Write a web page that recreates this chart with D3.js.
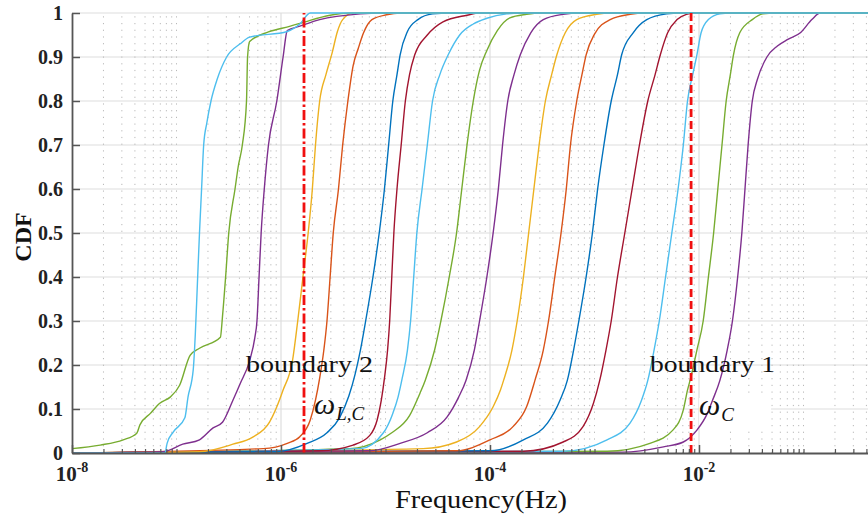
<!DOCTYPE html>
<html><head><meta charset="utf-8">
<script src="https://cdn.jsdelivr.net/npm/d3@7"></script>
<style>html,body{margin:0;padding:0;background:#fff;overflow:hidden}</style>
</head><body><svg id="chart" width="868" height="518"></svg>
<script>
// ---- data: each curve is [log10(frequency in Hz), CDF] ----
const c01 = [[-8,0],[-7.11,0],[-7.09,0.022],[-7.03,0.048],[-6.92,0.08],[-6.89,0.127],[-6.84,0.189],[-6.82,0.27],[-6.80,0.385],[-6.78,0.5],[-6.76,0.6],[-6.74,0.7],[-6.71,0.75],[-6.67,0.8],[-6.61,0.85],[-6.52,0.9],[-6.39,0.93],[-6.30,0.945],[-5.94,0.958],[-5.82,0.975],[-5.72,1],[0,1]];
const c02 = [[-8,0.01],[-7.73,0.018],[-7.51,0.03],[-7.38,0.045],[-7.35,0.064],[-7.25,0.09],[-7.16,0.113],[-7.06,0.127],[-6.97,0.154],[-6.87,0.222],[-6.78,0.238],[-6.58,0.263],[-6.56,0.31],[-6.53,0.4],[-6.50,0.5],[-6.44,0.6],[-6.41,0.65],[-6.37,0.7],[-6.33,0.8],[-6.32,0.9],[-6.30,0.935],[-6.12,0.957],[-5.91,0.97],[-5.77,0.98],[-5.53,0.995],[-5.34,1],[0,1]];
const c03 = [[-8,0],[-7.13,0.003],[-6.94,0.02],[-6.78,0.03],[-6.65,0.057],[-6.56,0.07],[-6.46,0.12],[-6.39,0.158],[-6.30,0.21],[-6.25,0.263],[-6.23,0.3],[-6.21,0.4],[-6.19,0.5],[-6.16,0.6],[-6.12,0.7],[-6.04,0.8],[-5.98,0.9],[-5.94,0.96],[-5.82,0.97],[-5.63,0.985],[-5.24,0.998],[-5.05,1],[0,1]];
const c04 = [[-8,0],[-6.78,0.003],[-6.46,0.02],[-6.27,0.036],[-6.11,0.07],[-6.04,0.105],[-5.98,0.143],[-5.89,0.21],[-5.84,0.3],[-5.79,0.4],[-5.74,0.5],[-5.70,0.6],[-5.67,0.7],[-5.63,0.8],[-5.57,0.86],[-5.51,0.91],[-5.46,0.958],[-5.41,0.985],[-5.31,1],[0,1]];
const c05 = [[-8,0],[-6.17,0.01],[-5.94,0.022],[-5.82,0.037],[-5.72,0.075],[-5.67,0.12],[-5.63,0.17],[-5.59,0.234],[-5.56,0.3],[-5.53,0.4],[-5.50,0.5],[-5.45,0.6],[-5.41,0.7],[-5.36,0.8],[-5.31,0.88],[-5.26,0.92],[-5.21,0.955],[-5.13,0.985],[-4.99,0.996],[-4.86,1],[0,1]];
const c06 = [[-8,0],[-6.04,0.003],[-5.75,0.022],[-5.56,0.046],[-5.44,0.08],[-5.35,0.13],[-5.29,0.18],[-5.24,0.234],[-5.19,0.3],[-5.12,0.4],[-5.06,0.5],[-5.01,0.6],[-4.97,0.7],[-4.93,0.8],[-4.89,0.86],[-4.86,0.905],[-4.79,0.958],[-4.69,0.985],[-4.55,0.998],[-4.38,1],[0,1]];
const c07 = [[-8,0],[-5.63,0.005],[-5.31,0.018],[-5.15,0.04],[-5.08,0.075],[-5.04,0.12],[-5.01,0.17],[-4.98,0.234],[-4.96,0.3],[-4.94,0.4],[-4.92,0.5],[-4.89,0.6],[-4.85,0.7],[-4.81,0.8],[-4.77,0.86],[-4.72,0.905],[-4.60,0.95],[-4.45,0.98],[-4.22,0.995],[-4.10,1],[0,1]];
const c08 = [[-8,0],[-5.24,0.01],[-5.02,0.046],[-4.93,0.09],[-4.88,0.127],[-4.84,0.17],[-4.79,0.234],[-4.76,0.3],[-4.73,0.4],[-4.70,0.5],[-4.65,0.6],[-4.60,0.7],[-4.55,0.8],[-4.48,0.86],[-4.40,0.905],[-4.29,0.95],[-4.16,0.975],[-4.03,0.988],[-3.84,0.998],[-3.71,1],[0,1]];
const c09 = [[-8,0],[-5.34,0.01],[-5.05,0.03],[-4.94,0.046],[-4.77,0.085],[-4.67,0.136],[-4.62,0.165],[-4.53,0.234],[-4.47,0.3],[-4.39,0.4],[-4.32,0.5],[-4.27,0.6],[-4.22,0.7],[-4.16,0.8],[-4.10,0.87],[-4.03,0.915],[-3.93,0.96],[-3.81,0.989],[-3.65,0.997],[-3.52,1],[0,1]];
const c10 = [[-8,0],[-5.15,0.005],[-4.86,0.022],[-4.60,0.046],[-4.41,0.082],[-4.30,0.127],[-4.23,0.165],[-4.15,0.234],[-4.10,0.3],[-4.03,0.4],[-3.97,0.5],[-3.92,0.6],[-3.88,0.7],[-3.83,0.8],[-3.77,0.86],[-3.71,0.905],[-3.61,0.955],[-3.49,0.985],[-3.30,0.997],[-3.14,1],[0,1]];
const c11 = [[-8,0],[-4.64,0.01],[-4.32,0.025],[-4.10,0.06],[-3.97,0.105],[-3.90,0.143],[-3.87,0.165],[-3.79,0.234],[-3.74,0.3],[-3.68,0.4],[-3.63,0.5],[-3.58,0.6],[-3.53,0.7],[-3.47,0.8],[-3.41,0.86],[-3.36,0.905],[-3.28,0.955],[-3.17,0.985],[-2.98,0.997],[-2.85,1],[0,1]];
const c12 = [[-8,0],[-4.32,0.005],[-4.00,0.03],[-3.78,0.06],[-3.65,0.105],[-3.57,0.165],[-3.49,0.234],[-3.44,0.3],[-3.38,0.4],[-3.32,0.5],[-3.27,0.6],[-3.23,0.7],[-3.17,0.8],[-3.12,0.86],[-3.08,0.905],[-3.00,0.952],[-2.85,0.985],[-2.66,0.997],[-2.52,1],[0,1]];
const c13 = [[-8,0],[-4.00,0.005],[-3.68,0.03],[-3.45,0.068],[-3.33,0.12],[-3.26,0.165],[-3.20,0.234],[-3.15,0.3],[-3.08,0.4],[-3.02,0.5],[-2.97,0.6],[-2.91,0.7],[-2.84,0.8],[-2.78,0.86],[-2.74,0.905],[-2.63,0.955],[-2.50,0.985],[-2.31,0.998],[-2.18,1],[0,1]];
const c14 = [[-8,0],[-3.68,0.004],[-3.30,0.025],[-3.11,0.06],[-3.01,0.113],[-2.95,0.165],[-2.89,0.234],[-2.84,0.3],[-2.78,0.4],[-2.71,0.5],[-2.64,0.6],[-2.57,0.7],[-2.49,0.8],[-2.42,0.86],[-2.37,0.905],[-2.30,0.955],[-2.21,0.985],[-2.12,0.997],[-2.04,1],[0,1]];
const c15 = [[-8,0],[-3.30,0.004],[-2.88,0.03],[-2.66,0.068],[-2.55,0.12],[-2.49,0.165],[-2.43,0.234],[-2.38,0.3],[-2.32,0.4],[-2.26,0.5],[-2.20,0.6],[-2.15,0.7],[-2.11,0.8],[-2.06,0.86],[-2.02,0.905],[-1.98,0.955],[-1.91,0.985],[-1.80,0.998],[-1.70,1],[0,1]];
const c16 = [[-8,0],[-2.88,0.004],[-2.47,0.022],[-2.25,0.052],[-2.15,0.098],[-2.11,0.143],[-2.08,0.17],[-2.02,0.234],[-1.96,0.3],[-1.91,0.4],[-1.86,0.5],[-1.82,0.6],[-1.78,0.7],[-1.74,0.8],[-1.70,0.86],[-1.67,0.905],[-1.61,0.955],[-1.49,0.985],[-1.39,0.998],[-1.27,1],[0,1]];
const c17 = [[-8,0],[-2.73,0.002],[-2.34,0.014],[-2.15,0.025],[-2.02,0.052],[-1.92,0.09],[-1.87,0.12],[-1.80,0.165],[-1.73,0.234],[-1.68,0.3],[-1.63,0.4],[-1.59,0.5],[-1.56,0.6],[-1.53,0.7],[-1.49,0.8],[-1.44,0.85],[-1.35,0.9],[-1.25,0.925],[-1.15,0.94],[-1.03,0.955],[-0.92,0.985],[-0.84,1],[0,1]];

const curves = [c01,c02,c03,c04,c05,c06,c07,c08,c09,c10,c11,c12,c13,c14,c15,c16,c17];
const palette = ["#4DBEEE","#77AC30","#7E2F8E","#EDB120","#D95319","#0072BD","#A2142F",
                 "#4DBEEE","#77AC30","#7E2F8E","#EDB120","#D95319","#0072BD","#A2142F",
                 "#4DBEEE","#77AC30","#7E2F8E"];

const yTickValues = [0,0.1,0.2,0.3,0.4,0.5,0.6,0.7,0.8,0.9,1];
const yTickLabels = ["0","0.1","0.2","0.3","0.4","0.5","0.6","0.7","0.8","0.9","1"];
const xMajorTicks = [1e-8,1e-6,1e-4,1e-2];
const xTickExponents = ["-8","-6","-4","-2"];
const boundaries = [
  {f: 1.66e-6, name: "boundary 2", sym: "\u03C9", sub: "L,C", dash: "10,3,2.5,3"},
  {f: 8.4e-3,  name: "boundary 1", sym: "\u03C9", sub: "C",   dash: "8,4"}
];

// ---- chart ----
const svg = d3.select("#chart");
const x = d3.scaleLog().domain([1e-8, 1]).range([72, 908]);
const y = d3.scaleLinear().domain([0, 1]).range([453, 13]);
const [y0, y1] = y.range();
const serif = "'Liberation Serif','Times New Roman',serif";

const allTicks = x.ticks();
const minorTicks = allTicks.filter(t => !xMajorTicks.some(m => Math.abs(Math.log10(t) - Math.log10(m)) < 1e-6));

// grid
const grid = svg.append("g");
grid.selectAll(".hg").data(yTickValues.slice(1)).join("line")
  .attr("x1", 72).attr("x2", 868).attr("y1", d => y(d)).attr("y2", d => y(d))
  .attr("stroke", "#dedede").attr("stroke-width", 1.2);
grid.selectAll(".vmin").data(minorTicks).join("line")
  .attr("x1", d => x(d)).attr("x2", d => x(d)).attr("y1", y0).attr("y2", y1)
  .attr("stroke", "#b8b8b8").attr("stroke-width", 1).attr("stroke-dasharray", "1.2,5.5");
grid.selectAll(".vmaj").data(xMajorTicks.slice(1)).join("line")
  .attr("x1", d => x(d)).attr("x2", d => x(d)).attr("y1", y0).attr("y2", y1)
  .attr("stroke", "#dedede").attr("stroke-width", 1.2);

// white box behind omega_C
svg.append("rect").attr("x", x(boundaries[1].f) + 8).attr("y", y(0.125)).attr("width", 72).attr("height", 30).attr("fill", "#fff");

// curves
const line = d3.line().x(d => x(Math.pow(10, d[0]))).y(d => y(d[1])).curve(d3.curveMonotoneX);
const order = d3.range(curves.length).reverse();
svg.append("g").selectAll("path").data(order).join("path")
  .attr("d", i => line(curves[i]))
  .attr("fill", "none").attr("stroke", i => palette[i]).attr("stroke-width", 1.4);

// boundaries
svg.append("g").selectAll("line").data(boundaries).join("line")
  .attr("x1", d => x(d.f)).attr("x2", d => x(d.f)).attr("y1", y(0)).attr("y2", y(1))
  .attr("stroke", "#f01010").attr("stroke-width", 2.8).attr("stroke-dasharray", d => d.dash);

// axes
const axisColor = "#555";
const yAxis = svg.append("g").attr("transform", "translate(72,0)")
  .call(d3.axisRight(y).tickValues(yTickValues).tickSize(8).tickFormat("").tickSizeOuter(0));
yAxis.select(".domain").attr("stroke", axisColor).attr("stroke-width", 1.8);
yAxis.selectAll(".tick line").attr("stroke", axisColor).attr("stroke-width", 1.5);

const xAxisMaj = svg.append("g").attr("transform", `translate(0,${y0})`)
  .call(d3.axisTop(x).tickValues(xMajorTicks).tickSize(8).tickFormat("").tickSizeOuter(0));
xAxisMaj.select(".domain").attr("stroke", axisColor).attr("stroke-width", 1.8);
xAxisMaj.selectAll(".tick line").attr("stroke", axisColor).attr("stroke-width", 1.5);
const xAxisMin = svg.append("g").attr("transform", `translate(0,${y0})`)
  .call(d3.axisTop(x).tickValues(minorTicks).tickSize(4).tickFormat("").tickSizeOuter(0));
xAxisMin.select(".domain").remove();
xAxisMin.selectAll(".tick line").attr("stroke", axisColor).attr("stroke-width", 1.2);

// y tick labels
svg.append("g").selectAll("text").data(yTickValues).join("text")
  .attr("x", 63).attr("y", d => y(d)).attr("dy", "0.35em")
  .attr("text-anchor", "end")
  .style("font-family", serif)
  .style("font-weight", "bold").style("font-size", "20px").attr("fill", "#222")
  .text((d, i) => yTickLabels[i]);

// x tick labels
const xl = svg.append("g").selectAll("text").data(xMajorTicks).join("text")
  .attr("x", d => x(d)).attr("y", 481).attr("text-anchor", "middle")
  .style("font-family", serif)
  .style("font-weight", "bold").attr("fill", "#222");
xl.append("tspan").style("font-size", "21px").text("10");
xl.append("tspan").style("font-size", "14px").attr("dy", -9).text((d, i) => xTickExponents[i]);

// axis titles
svg.append("text").attr("transform", `translate(31,${(y0 + y1) / 2 + 4}) rotate(-90)`)
  .attr("text-anchor", "middle")
  .style("font-family", serif)
  .style("font-weight", "bold").style("font-size", "24px").attr("fill", "#111").text("CDF");
svg.append("text").attr("x", 481).attr("y", 508).attr("text-anchor", "middle")
  .attr("textLength", 172).attr("lengthAdjust", "spacingAndGlyphs")
  .style("font-family", serif)
  .style("font-size", "25px").attr("fill", "#111").text("Frequency(Hz)");

// boundary annotations
const ann = svg.append("g").style("font-family", serif).attr("fill", "#111");
ann.append("text").attr("x", 246).attr("y", 372).attr("textLength", 127).attr("lengthAdjust", "spacingAndGlyphs")
  .style("font-size", "23px").text(boundaries[0].name);
ann.append("text").attr("x", 650).attr("y", 372).attr("textLength", 125).attr("lengthAdjust", "spacingAndGlyphs")
  .style("font-size", "23px").text(boundaries[1].name);
const w1 = ann.append("text").attr("x", 314).attr("y", 414).style("font-style", "italic");
w1.append("tspan").style("font-size", "30px").text(boundaries[0].sym);
w1.append("tspan").style("font-size", "19px").attr("dy", 6).attr("dx", 1).text(boundaries[0].sub);
const w2 = ann.append("text").attr("x", 699).attr("y", 415).style("font-style", "italic");
w2.append("tspan").style("font-size", "30px").text(boundaries[1].sym);
w2.append("tspan").style("font-size", "19px").attr("dy", 6).attr("dx", 1).text(boundaries[1].sub);
</script></body></html>
